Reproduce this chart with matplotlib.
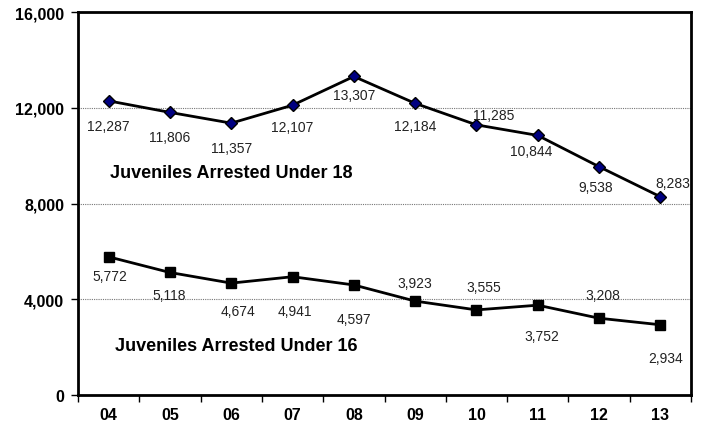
import matplotlib
matplotlib.use("Agg")
import matplotlib.pyplot as plt

years = ["04", "05", "06", "07", "08", "09", "10", "11", "12", "13"]
under18 = [12287, 11806, 11357, 12107, 13307, 12184, 11285, 10844, 9538, 8283]
under16 = [5772, 5118, 4674, 4941, 4597, 3923, 3555, 3752, 3208, 2934]
yticks = [0, 4000, 8000, 12000, 16000]

# label offsets in pixels (dx, dy), dy positive = up
off18 = [(0, -25), (0, -25), (0, -25), (0, -22), (0, -19), (0, -23),
         (17, 10), (-7, -16), (-3, -20), (12, 14)]
off16 = [(1, -19), (-1, -23), (7, -28), (2, -34), (0, -34), (0, 18),
         (7, 23), (4, -31), (4, 23), (5, -33)]

plt.rcParams['font.family'] = ['Liberation Sans', 'DejaVu Sans']

fig = plt.figure(figsize=(7.07, 4.27), dpi=100)
ax = fig.add_axes([78/707, 1-396/427, (691-78)/707, (396-13)/427])

x = list(range(len(years)))
ax.plot(x, under18, color='black', lw=2.0, marker='D', markersize=6,
        markerfacecolor='#000080', markeredgecolor='black', markeredgewidth=1.0, zorder=3)
ax.plot(x, under16, color='black', lw=2.0, marker='s', markersize=7.5,
        markerfacecolor='black', markeredgecolor='black', zorder=3)

for xi, v, (dx, dy) in zip(x, under18, off18):
    ax.annotate(f"{v:,}", (xi, v), xytext=(dx, dy), textcoords='offset pixels',
                ha='center', va='center', fontsize=10, color='#222222')
for xi, v, (dx, dy) in zip(x, under16, off16):
    ax.annotate(f"{v:,}", (xi, v), xytext=(dx, dy), textcoords='offset pixels',
                ha='center', va='center', fontsize=10, color='#222222')

ax.text(0.03, 9280, "Juveniles Arrested Under 18", fontsize=13, fontweight='bold',
        ha='left', va='center')
ax.text(0.1, 2080, "Juveniles Arrested Under 16", fontsize=13, fontweight='bold',
        ha='left', va='center')

ax.set_xlim(-0.5, len(years) - 0.5)
ax.set_ylim(0, 16000)
ax.set_yticks(yticks)
ax.set_yticklabels([f"{t:,}" for t in yticks], fontsize=11.5, fontweight='bold')
ax.set_xticks(x)
ax.set_xticklabels(years, fontsize=11.5, fontweight='bold')
ax.set_xticks([i - 0.5 for i in range(len(years) + 1)], minor=True)
ax.tick_params(axis='x', which='major', length=0, pad=9)
ax.tick_params(axis='x', which='minor', length=5, width=1, direction='out')
ax.tick_params(axis='y', length=5, width=1, direction='out', pad=5)

for yv in yticks[1:-1]:
    ax.axhline(yv, color='#777777', lw=0.8, ls=(0, (1, 1)), zorder=1)

for s in ax.spines.values():
    s.set_linewidth(2)
    s.set_color('black')

fig.savefig("out.png", dpi=100)
